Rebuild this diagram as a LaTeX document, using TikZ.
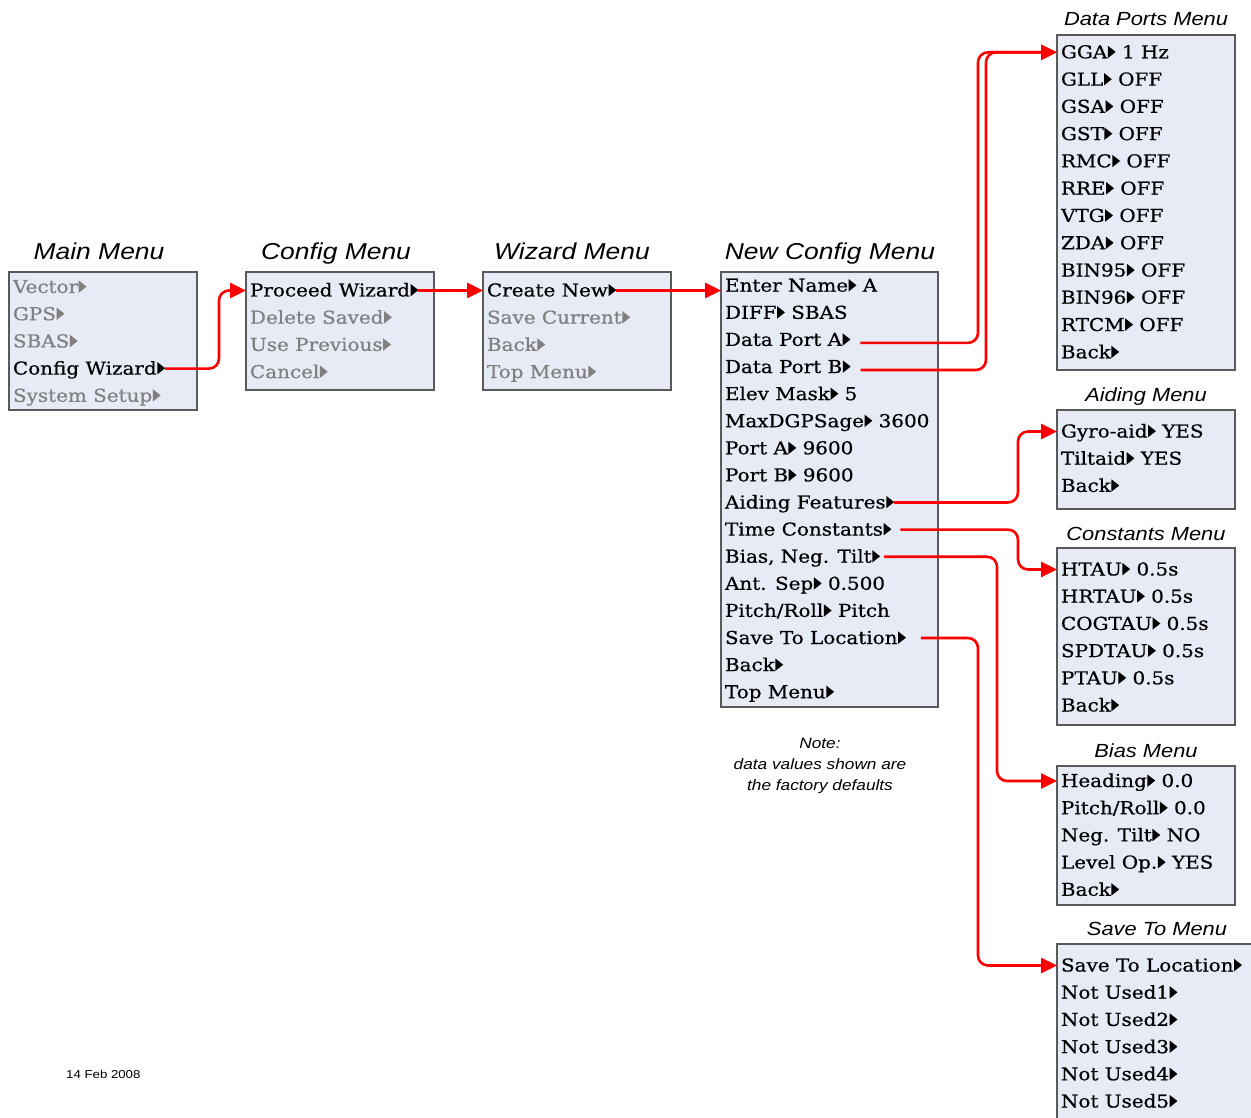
\documentclass[tikz,border=0pt]{standalone}
\usepackage{fontspec}
\setmainfont{DejaVu Serif}[FakeStretch=1.12,FakeBold=0.6]
\newfontfamily\headfont{Liberation Sans}[FakeStretch=1.15]
\usetikzlibrary{arrows.meta}
\definecolor{menufill}{RGB}{230,235,246}
\definecolor{menuline}{RGB}{90,90,90}
\definecolor{dimtext}{RGB}{128,128,128}
\definecolor{linkred}{RGB}{255,0,0}
% small pointer triangle that follows each menu entry
\newcommand{\sel}{\kern0.6pt\tikz[baseline=0pt]\fill (0pt,0.2pt)--(0pt,12.6pt)--(7.8pt,6.4pt)--cycle;}
\tikzset{
  menubox/.style={draw=menuline, fill=menufill, line width=1.2pt, rectangle,
    anchor=north west, inner sep=0pt, outer sep=0pt},
  row/.style={anchor=base west, inner sep=0pt, outer sep=0pt,
    text height=14pt, text depth=2pt, font=\fontsize{17.8pt}{20pt}\selectfont},
  dimrow/.style={row, text=dimtext},
  bigtitle/.style={anchor=base, inner sep=0pt, font=\headfont\itshape\fontsize{23pt}{26pt}\selectfont},
  smalltitle/.style={anchor=base, inner sep=0pt, font=\headfont\itshape\fontsize{19pt}{22pt}\selectfont},
  conn/.style={draw=linkred, line width=2.6pt, rounded corners=10pt,
    -{Triangle[length=16pt,width=15pt]}},
}
\begin{document}
\begin{tikzpicture}[x=1pt,y=-1pt]
\useasboundingbox (0,0) rectangle (1251,1118);

% menu frames
\node[menubox, minimum width=188pt, minimum height=138pt] (mainbox)  at (9,272) {};
\node[menubox, minimum width=188pt, minimum height=118pt] (cfgbox)   at (246,272) {};
\node[menubox, minimum width=188pt, minimum height=118pt] (wizbox)   at (483,272) {};
\node[menubox, minimum width=217pt, minimum height=435pt] (newbox)   at (721,272) {};
\node[menubox, minimum width=178pt, minimum height=335pt] (portbox)  at (1057,35) {};
\node[menubox, minimum width=178pt, minimum height=99pt]  (aidbox)   at (1057,410) {};
\node[menubox, minimum width=178pt, minimum height=177pt] (constbox) at (1057,548) {};
\node[menubox, minimum width=178pt, minimum height=139pt] (biasbox)  at (1057,766) {};
\node[menubox, minimum width=200pt, minimum height=200pt] (savebox)  at (1057,944) {};

% titles
\node[bigtitle] (tmain)  at (99,260)  {Main Menu};
\node[bigtitle] (tcfg)   at (336,260) {Config Menu};
\node[bigtitle] (twiz)   at (572,260) {Wizard Menu};
\node[bigtitle] (tnew)   at (830,260) {New Config Menu};
\node[smalltitle] (tport)  at (1146,26)  {Data Ports Menu};
\node[smalltitle] (taid)   at (1146,401) {Aiding Menu};
\node[smalltitle] (tconst) at (1146,540) {Constants Menu};
\node[smalltitle] (tbias)  at (1146,757) {Bias Menu};
\node[smalltitle] (tsave)  at (1157,935) {Save To Menu};

% Main Menu
\node[dimrow] (vec)   at (13,293)   {Vector\sel};
\node[dimrow] (gps)   at (13,320.2) {GPS\sel};
\node[dimrow] (sbas)  at (13,347.4) {SBAS\sel};
\node[row]    (cwiz)  at (13,374.6) {Config Wizard\sel};
\node[dimrow] (sys)   at (13,401.8) {System Setup\sel};

% Config Menu
\node[row]    (pwiz)    at (250,296.5) {Proceed Wizard\sel};
\node[dimrow] (delsav)  at (250,323.7) {Delete Saved\sel};
\node[dimrow] (useprev) at (250,350.9) {Use Previous\sel};
\node[dimrow] (cancel)  at (250,378.1) {Cancel\sel};

% Wizard Menu
\node[row]    (cnew)    at (487,296.5) {Create New\sel};
\node[dimrow] (savecur) at (487,323.7) {Save Current\sel};
\node[dimrow] (wback)   at (487,350.9) {Back\sel};
\node[dimrow] (wtop)    at (487,378.1) {Top Menu\sel};

% New Config Menu
\node[row] (ename)  at (725,291.7) {Enter Name\sel\ A};
\node[row] (diff)   at (725,318.8) {DIFF\sel\ SBAS};
\node[row] (dpa)    at (725,345.9) {Data Port A\sel};
\node[row] (dpb)    at (725,373.0) {Data Port B\sel};
\node[row] (elev)   at (725,400.1) {Elev Mask\sel\ 5};
\node[row] (maxage) at (725,427.2) {MaxDGPSage\sel\ 3600};
\node[row] (porta)  at (725,454.3) {Port A\sel\ 9600};
\node[row] (portb)  at (725,481.4) {Port B\sel\ 9600};
\node[row] (aidf)   at (725,508.5) {Aiding Features\sel};
\node[row] (timec)  at (725,535.6) {Time Constants\sel};
\node[row] (biasn)  at (725,562.7) {Bias, Neg. Tilt\sel};
\node[row] (antsep) at (725,589.8) {Ant. Sep\sel\ 0.500};
\node[row] (pitch)  at (725,616.9) {Pitch/Roll\sel\ Pitch};
\node[row] (saveto) at (725,644.0) {Save To Location\sel};
\node[row] (nback)  at (725,671.1) {Back\sel};
\node[row] (ntop)   at (725,698.2) {Top Menu\sel};

% Data Ports Menu
\node[row] (gga)   at (1061,58.3)  {GGA\sel\ 1 Hz};
\node[row] (gll)   at (1061,85.6)  {GLL\sel\ OFF};
\node[row] (gsa)   at (1061,112.8) {GSA\sel\ OFF};
\node[row] (gst)   at (1061,140.1) {GST\sel\ OFF};
\node[row] (rmc)   at (1061,167.4) {RMC\sel\ OFF};
\node[row] (rre)   at (1061,194.7) {RRE\sel\ OFF};
\node[row] (vtg)   at (1061,221.9) {VTG\sel\ OFF};
\node[row] (zda)   at (1061,249.2) {ZDA\sel\ OFF};
\node[row] (bin95) at (1061,276.5) {BIN95\sel\ OFF};
\node[row] (bin96) at (1061,303.7) {BIN96\sel\ OFF};
\node[row] (rtcm)  at (1061,331.0) {RTCM\sel\ OFF};
\node[row] (pback) at (1061,358.3) {Back\sel};

% Aiding Menu
\node[row] (gyro)  at (1061,437.5) {Gyro-aid\sel\ YES};
\node[row] (tilt)  at (1061,464.7) {Tiltaid\sel\ YES};
\node[row] (aback) at (1061,491.9) {Back\sel};

% Constants Menu
\node[row] (htau)   at (1061,575.5) {HTAU\sel\ 0.5s};
\node[row] (hrtau)  at (1061,602.7) {HRTAU\sel\ 0.5s};
\node[row] (cogtau) at (1061,629.9) {COGTAU\sel\ 0.5s};
\node[row] (spdtau) at (1061,657.1) {SPDTAU\sel\ 0.5s};
\node[row] (ptau)   at (1061,684.3) {PTAU\sel\ 0.5s};
\node[row] (cback)  at (1061,711.5) {Back\sel};

% Bias Menu
\node[row] (head)  at (1061,787.0) {Heading\sel\ 0.0};
\node[row] (prb)   at (1061,814.2) {Pitch/Roll\sel\ 0.0};
\node[row] (negt)  at (1061,841.4) {Neg. Tilt\sel\ NO};
\node[row] (level) at (1061,868.6) {Level Op.\sel\ YES};
\node[row] (bback) at (1061,895.8) {Back\sel};

% Save To Menu
\node[row] (sloc) at (1061,971.5)  {Save To Location\sel};
\node[row] (nu1)  at (1061,998.7)  {Not Used1\sel};
\node[row] (nu2)  at (1061,1025.9) {Not Used2\sel};
\node[row] (nu3)  at (1061,1053.1) {Not Used3\sel};
\node[row] (nu4)  at (1061,1080.3) {Not Used4\sel};
\node[row] (nu5)  at (1061,1107.5) {Not Used5\sel};

% note and date
\node[inner sep=0pt, align=center, font=\headfont\itshape\fontsize{15pt}{21pt}\selectfont]
  (note) at (820,766) {Note:\\data values shown are\\the factory defaults};
\node[anchor=base west, inner sep=0pt, font=\headfont\fontsize{11.5pt}{13pt}\selectfont]
  (date) at (66,1078) {14 Feb 2008};

% vertical runs of the links
\coordinate (bendCW)   at (219,0);
\coordinate (bendDA)   at (978,0);
\coordinate (bendDB)   at (986,0);
\coordinate (bendAid)  at (1018,0);
\coordinate (bendBias) at (997,0);
\coordinate (bendSave) at (978,0);

% link start points
\coordinate (dpaOut)  at ([xshift=10pt,yshift=-3pt]dpa.east);
\coordinate (dpbOut)  at ([xshift=10pt,yshift=-3pt]dpb.east);
\coordinate (timeOut) at ([xshift=9pt]timec.east);
\coordinate (biasOut) at ([xshift=4pt]biasn.east);
\coordinate (saveOut) at ([xshift=15pt]saveto.east);

% links
\draw[conn] (cwiz.east) -- (cwiz.east -| bendCW) -- (pwiz.west -| bendCW) -- (cfgbox.west |- pwiz.west);
\draw[conn] (pwiz.east) -- (wizbox.west |- pwiz.east);
\draw[conn] (cnew.east) -- (newbox.west |- cnew.east);
\draw[conn] (dpaOut) -- (dpaOut -| bendDA) -- (gga.west -| bendDA) -- (portbox.west |- gga.west);
\draw[conn] (dpbOut) -- (dpbOut -| bendDB) -- (gga.west -| bendDB) -- (portbox.west |- gga.west);
\draw[conn] (aidf.east) -- (aidf.east -| bendAid) -- (gyro.west -| bendAid) -- (aidbox.west |- gyro.west);
\draw[conn] (timeOut) -- (timeOut -| bendAid) -- (htau.west -| bendAid) -- (constbox.west |- htau.west);
\draw[conn] (biasOut) -- (biasOut -| bendBias) -- (head.west -| bendBias) -- (biasbox.west |- head.west);
\draw[conn] (saveOut) -- (saveOut -| bendSave) -- (sloc.west -| bendSave) -- (savebox.west |- sloc.west);
\end{tikzpicture}
\end{document}
